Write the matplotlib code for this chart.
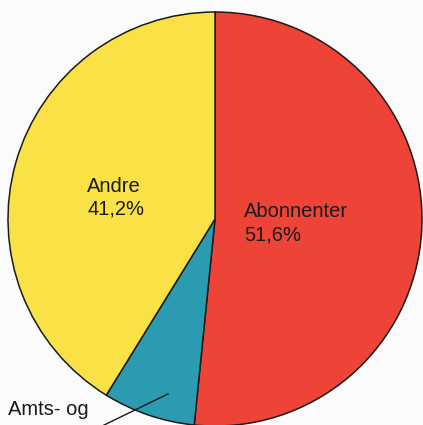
import matplotlib
matplotlib.use("Agg")

import matplotlib.pyplot as plt

# Shares (percent), clockwise from the top
categories = ["Abonnenter", "Amts- og", "Andre"]
shares = [51.6, 7.2, 41.2]
labels = ["Abonnenter\n51,6%", "Amts- og", "Andre\n41,2%"]
colors = ["#ee4437", "#2a9bb0", "#fae146"]

plt.rcParams["font.family"] = ["Liberation Sans", "DejaVu Sans"]

fig = plt.figure(figsize=(4.23, 4.25), dpi=100)
fig.patch.set_facecolor("#fbfbfb")
ax = fig.add_axes([0, 0, 1, 1])

ax.pie(
    shares,
    colors=colors,
    startangle=90,
    counterclock=False,
    radius=1.0,
    wedgeprops={"edgecolor": "#1a1a1a", "linewidth": 1.1},
)

# pie sized so that the radius is about 207 px, centre at (215, 219) px
ax.set_aspect("auto")
ax.set_xlim(-1.0386, 1.0048)
ax.set_ylim(-0.995, 1.058)
ax.axis("off")

fs = 14.5
ax.text(-0.618, 0.205, labels[2], ha="left", va="top",
        fontsize=fs, color="#1a1a1a", linespacing=1.25)
ax.text(0.140, 0.080, labels[0], ha="left", va="top",
        fontsize=fs, color="#1a1a1a", linespacing=1.25)
ax.text(-1.0, -0.874, labels[1], ha="left", va="top",
        fontsize=fs, color="#1a1a1a")

# leader line for the small slice
ax.plot([-0.227, -0.556], [-0.845, -1.005], color="#1a1a1a", linewidth=1.0,
        clip_on=False)

fig.savefig("out.png", dpi=100, facecolor=fig.get_facecolor())
